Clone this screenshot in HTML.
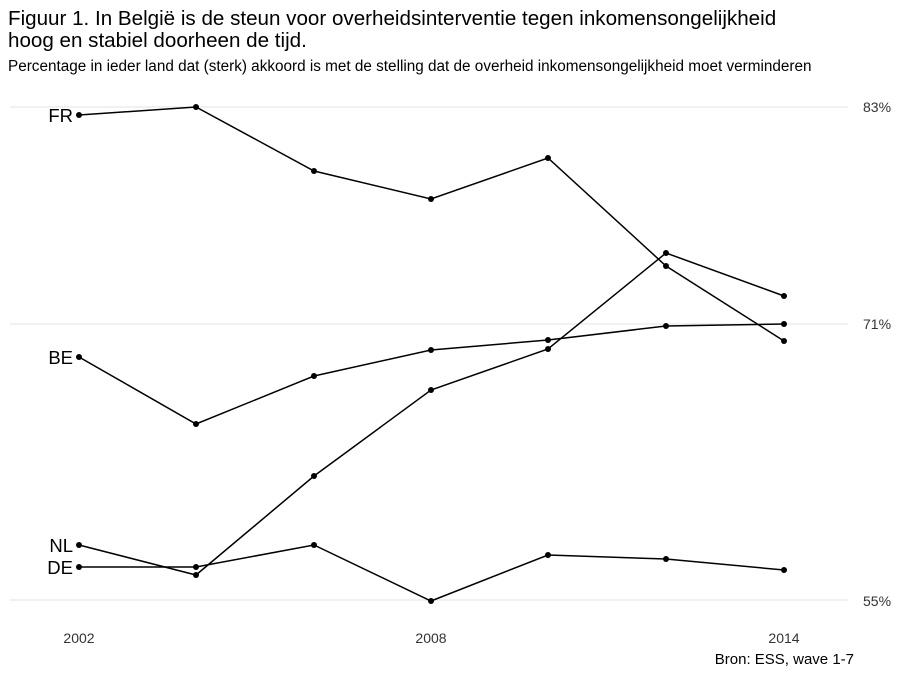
<!DOCTYPE html>
<html><head><meta charset="utf-8"><style>
body{margin:0;background:#fff;font-family:"Liberation Sans",Arial,sans-serif;}
</style></head><body>
<svg width="900" height="675" xmlns="http://www.w3.org/2000/svg" font-family="Liberation Sans, Arial, sans-serif">
<rect width="900" height="675" fill="#fff"/>
<text x="8" y="25" font-size="20.6" fill="#000">Figuur 1. In België is de steun voor overheidsinterventie tegen inkomensongelijkheid</text>
<text x="8" y="47" font-size="20.6" fill="#000">hoog en stabiel doorheen de tijd.</text>
<text x="8" y="71" font-size="15.3" fill="#000">Percentage in ieder land dat (sterk) akkoord is met de stelling dat de overheid inkomensongelijkheid moet verminderen</text>
<g stroke="#e3e3e3" stroke-width="1">
<line x1="10" y1="107" x2="848" y2="107"/>
<line x1="10" y1="324" x2="848" y2="324"/>
<line x1="10" y1="600" x2="848" y2="600"/>
</g>
<g font-size="14" fill="#333">
<text x="863" y="112">83%</text>
<text x="863" y="329">71%</text>
<text x="863" y="606">55%</text>
<text x="79" y="643" text-anchor="middle">2002</text>
<text x="431" y="643" text-anchor="middle">2008</text>
<text x="784" y="643" text-anchor="middle">2014</text>
</g>
<text x="854" y="664" font-size="15" text-anchor="end" fill="#000">Bron: ESS, wave 1-7</text>
<g font-size="18.5" fill="#000" text-anchor="end">
<text x="73" y="122">FR</text>
<text x="73" y="364">BE</text>
<text x="73" y="552">NL</text>
<text x="73" y="574">DE</text>
</g>
<g fill="none" stroke="#000" stroke-width="1.5">
<polyline points="79,115 196,107 314,171 431,199 548,158 666,266 784,341"/>
<polyline points="79,357 196,424 314,376 431,350 548,340 666,326 784,324"/>
<polyline points="79,545 196,575 314,476 431,390 548,349 666,253 784,296"/>
<polyline points="79,567 196,567 314,545 431,601 548,555 666,559 784,570"/>
</g>
<g fill="#000">
<circle cx="79" cy="115" r="3"/><circle cx="196" cy="107" r="3"/><circle cx="314" cy="171" r="3"/><circle cx="431" cy="199" r="3"/><circle cx="548" cy="158" r="3"/><circle cx="666" cy="266" r="3"/><circle cx="784" cy="341" r="3"/>
<circle cx="79" cy="357" r="3"/><circle cx="196" cy="424" r="3"/><circle cx="314" cy="376" r="3"/><circle cx="431" cy="350" r="3"/><circle cx="548" cy="340" r="3"/><circle cx="666" cy="326" r="3"/><circle cx="784" cy="324" r="3"/>
<circle cx="79" cy="545" r="3"/><circle cx="196" cy="575" r="3"/><circle cx="314" cy="476" r="3"/><circle cx="431" cy="390" r="3"/><circle cx="548" cy="349" r="3"/><circle cx="666" cy="253" r="3"/><circle cx="784" cy="296" r="3"/>
<circle cx="79" cy="567" r="3"/><circle cx="196" cy="567" r="3"/><circle cx="314" cy="545" r="3"/><circle cx="431" cy="601" r="3"/><circle cx="548" cy="555" r="3"/><circle cx="666" cy="559" r="3"/><circle cx="784" cy="570" r="3"/>
</g>
</svg>
</body></html>
